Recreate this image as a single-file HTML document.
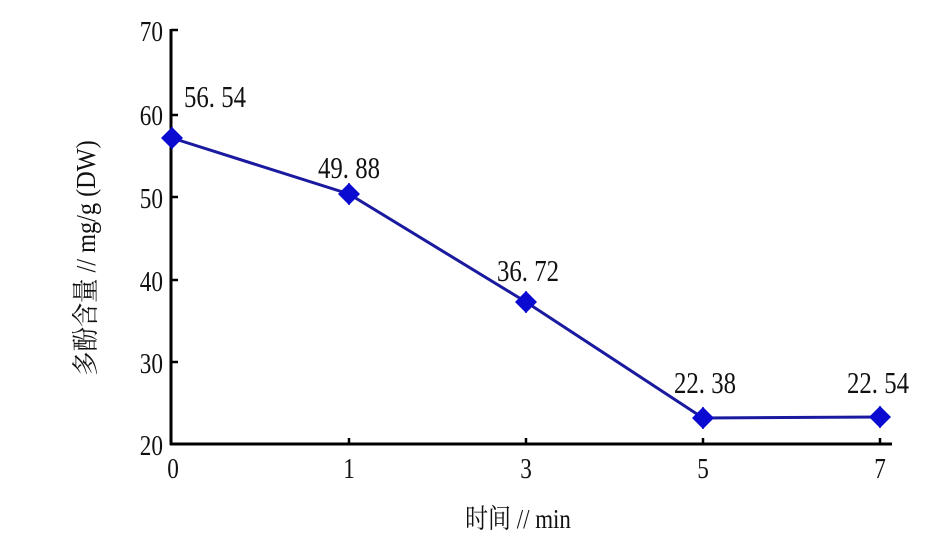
<!DOCTYPE html>
<html><head><meta charset="utf-8"><style>
html,body{margin:0;padding:0;background:#fff;}
svg text{font-family:"Liberation Serif","Noto Serif CJK SC",serif;fill:#111;}
</style></head><body>
<svg width="945" height="541" viewBox="0 0 945 541" xmlns="http://www.w3.org/2000/svg">
<g stroke="#000" stroke-width="3" fill="none">
<line x1="171" y1="29" x2="171" y2="445"/>
<line x1="170" y1="444" x2="892" y2="444"/>
</g>
<g stroke="#000" stroke-width="2.5">
<line x1="171" y1="30" x2="178" y2="30"/>
<line x1="171" y1="115" x2="178" y2="115"/>
<line x1="171" y1="197" x2="178" y2="197"/>
<line x1="171" y1="280" x2="178" y2="280"/>
<line x1="171" y1="362" x2="178" y2="362"/>
<line x1="349" y1="444" x2="349" y2="438"/>
<line x1="526" y1="444" x2="526" y2="438"/>
<line x1="703" y1="444" x2="703" y2="438"/>
<line x1="880" y1="444" x2="880" y2="438"/>
</g>
<g font-size="29" text-anchor="end">
<text transform="translate(163,41) scale(0.8,1)">70</text>
<text transform="translate(163,125) scale(0.8,1)">60</text>
<text transform="translate(163,208) scale(0.8,1)">50</text>
<text transform="translate(163,291) scale(0.8,1)">40</text>
<text transform="translate(163,373) scale(0.8,1)">30</text>
<text transform="translate(163,455) scale(0.8,1)">20</text>
</g>
<g font-size="29" text-anchor="middle">
<text transform="translate(173,478) scale(0.8,1)">0</text>
<text transform="translate(349,478) scale(0.8,1)">1</text>
<text transform="translate(526,478) scale(0.8,1)">3</text>
<text transform="translate(703,478) scale(0.8,1)">5</text>
<text transform="translate(880,478) scale(0.8,1)">7</text>
</g>
<polyline points="172,138 349,194 526,302 703,418 880,417" fill="none" stroke="#1a1aa0" stroke-width="3"/>
<g stroke="#0000c8" stroke-width="1.5">
<line x1="172" y1="127" x2="172" y2="149"/>
<line x1="349" y1="183" x2="349" y2="205"/>
<line x1="526" y1="291" x2="526" y2="313"/>
<line x1="703" y1="407" x2="703" y2="429"/>
<line x1="880" y1="406" x2="880" y2="428"/>
</g>
<g fill="#0a0ad0">
<polygon points="172,127 183,138 172,149 161,138"/>
<polygon points="349,183 360,194 349,205 338,194"/>
<polygon points="526,291 537,302 526,313 515,302"/>
<polygon points="703,407 714,418 703,429 692,418"/>
<polygon points="880,406 891,417 880,428 869,417"/>
</g>
<g font-size="31" text-anchor="middle">
<text transform="translate(215,107) scale(0.8,1)">56. 54</text>
<text transform="translate(349,178) scale(0.8,1)">49. 88</text>
<text transform="translate(528,281) scale(0.8,1)">36. 72</text>
<text transform="translate(705,393) scale(0.8,1)">22. 38</text>
<text transform="translate(878,393) scale(0.8,1)">22. 54</text>
</g>
<text font-size="27" text-anchor="middle" transform="translate(518,528) scale(0.85,1)">时间 // min</text>
<text font-size="27" text-anchor="middle" transform="translate(95,258) rotate(-90) scale(0.9,1)">多酚含量 // mg/g (DW)</text>
</svg>
</body></html>
